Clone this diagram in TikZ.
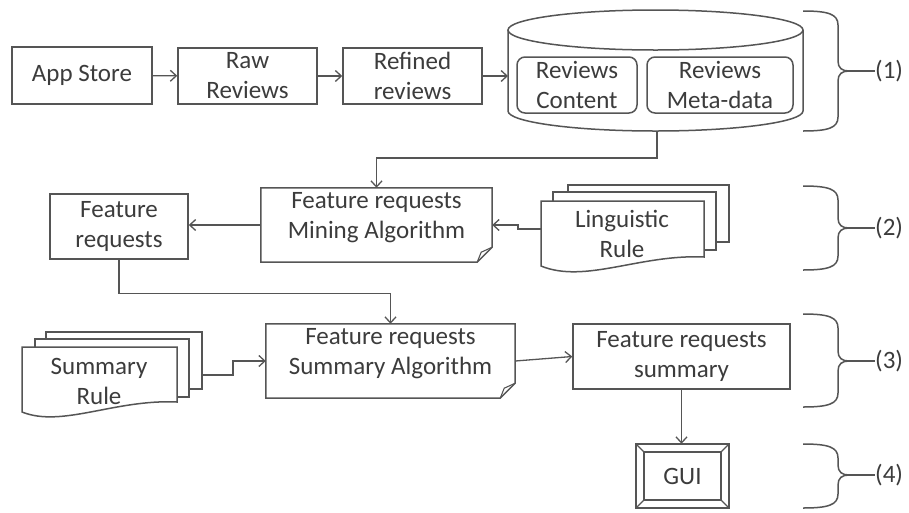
\documentclass[tikz,border=0pt]{standalone}
\usepackage{fontspec}
\setmainfont{Carlito}
\usetikzlibrary{arrows.meta,calc}
\definecolor{ln}{HTML}{555555}
\definecolor{tx}{HTML}{3C3C3C}
\tikzset{
  every node/.style={text=tx,font=\fontsize{25}{30}\selectfont,align=center,inner sep=0pt},
  line/.style={draw=ln,line width=1.5pt},
  box/.style={line,rectangle},
  ibox/.style={line,rectangle,rounded corners=8pt},
  arr/.style={draw=ln,line width=1.3pt,-{Straight Barb[length=6pt,width=11pt,line width=1.3pt]}},
  fold/.style={draw=ln,line width=1.1pt},
  lbl/.style={anchor=west},
}
\newcommand\grpbrace[3]{%
  \draw[line] (803,#1) .. controls (828,#1) and (838,#1+3) .. (838,#1+14)
    -- (838,#2-10) .. controls (838,#2-3) and (842,#2) .. (849,#2)
    .. controls (842,#2) and (838,#2+3) .. (838,#2+10)
    -- (838,#3-14) .. controls (838,#3-3) and (828,#3) .. (803,#3);}
\begin{document}
\begin{tikzpicture}[x=1pt,y=-1pt]
\useasboundingbox[fill=white] (0,0) rectangle (909,512);

% ---------- row 1 ----------
\node[box,minimum width=140pt,minimum height=57pt] (app) at (82,75.5) {App Store};
\node[box,minimum width=139pt,minimum height=56pt] (raw) at (247.5,76) {Raw\\Reviews};
\node[box,minimum width=139pt,minimum height=56pt] (ref) at (412.5,76) {Refined\\reviews};

% cylinder
\draw[line,fill=white] (508,30) -- (508,111)
  .. controls (508,122) and (574,131) .. (655.5,131)
  .. controls (737,131) and (803,122) .. (803,111) -- (803,30);
\draw[line] (655.5,30) ellipse [x radius=147.5pt, y radius=20pt];
\coordinate (dbw) at (508,76);
\coordinate (dbs) at (657,131);
\node[ibox,minimum width=120pt,minimum height=56pt] (rc) at (577,85) {Reviews\\Content};
\node[ibox,minimum width=146pt,minimum height=56pt] (rm) at (720,85) {Reviews\\Meta-data};

\draw[arr] (app) -- (raw);
\draw[arr] (raw) -- (ref);
\draw[arr] (ref.east) -- (ref.east -| dbw);

% ---------- row 2 ----------
\node[minimum width=231pt,minimum height=74pt] (mine) at (376.5,225) {};
\draw[line] (mine.north west) -- (mine.north east) -- ([yshift=15pt]mine.south east)
  -- ([xshift=-15pt]mine.south east) -- (mine.south west) -- cycle;
\draw[fold] ([xshift=-15pt]mine.south east) -- ([xshift=-11pt,yshift=10pt]mine.south east) -- ([yshift=15pt]mine.south east);
\node (minet) at (376.5,218) {Feature requests\\Mining Algorithm};

\node[box,minimum width=138pt,minimum height=65pt] (fr) at (119,226.5) {Feature\\requests};

% linguistic rule documents
\draw[line,fill=white] (568,185) rectangle (729,242);
\draw[line,fill=white] (553,192) rectangle (716,250);
\draw[line,fill=white] (541,201) -- (704,201) -- (704,257)
  .. controls (640,254) and (585,284) .. (541,266) -- cycle;
\node (ling) at (622,234) {Linguistic\\Rule};
\coordinate (lingout) at (541,229);

\draw[arr] (dbs) -- ++(0,27) -| (mine.north);
\draw[arr] (mine.west) -- (mine.west -| fr.east);
\draw[arr] (lingout) -- ++(-23,0) |- (mine.east);

% ---------- row 3 ----------
\node[minimum width=249pt,minimum height=74pt] (sumalg) at (390.5,361) {};
\draw[line] (sumalg.north west) -- (sumalg.north east) -- ([yshift=15pt]sumalg.south east)
  -- ([xshift=-15pt]sumalg.south east) -- (sumalg.south west) -- cycle;
\draw[fold] ([xshift=-15pt]sumalg.south east) -- ([xshift=-11pt,yshift=10pt]sumalg.south east) -- ([yshift=15pt]sumalg.south east);
\node (sumalgt) at (390.5,354) {Feature requests\\Summary Algorithm};

% summary rule documents
\draw[line,fill=white] (46,332) rectangle (202,389);
\draw[line,fill=white] (35,339) rectangle (189,397);
\draw[line,fill=white] (22,347) -- (177,347) -- (177,402)
  .. controls (115,399) and (62,428) .. (22,412) -- cycle;
\node (srule) at (99,381) {Summary\\Rule};
\coordinate (srout) at (202,375);

\node[box,minimum width=217pt,minimum height=65pt] (frs) at (681.5,356.5) {Feature requests\\summary};

\draw[arr] (fr.south) -- ++(0,34) -| (sumalg.north);
\draw[arr] (srout) -- ++(31,0) |- (sumalg.west);
\draw[arr] (sumalg.east) -- (frs.west);

% ---------- row 4 ----------
\node[minimum width=93pt,minimum height=64pt] (gui) at (682.5,476) {GUI};
\draw[line] (gui.north west) rectangle (gui.south east);
\draw[line] ([shift={(8pt,-8pt)}]gui.north west) rectangle ([shift={(-8pt,8pt)}]gui.south east);
\draw[fold] (gui.north west) -- ([shift={(8pt,-8pt)}]gui.north west);
\draw[fold] (gui.north east) -- ([shift={(-8pt,-8pt)}]gui.north east);
\draw[fold] (gui.south west) -- ([shift={(8pt,8pt)}]gui.south west);
\draw[fold] (gui.south east) -- ([shift={(-8pt,8pt)}]gui.south east);
\draw[arr] (frs.south) -- (frs.south |- gui.north);

% ---------- braces ----------
\grpbrace{11}{71}{131}
\coordinate (t1) at (849,71);
\node[lbl] (l1) at (875,71) {(1)};
\draw[line] (t1) -- (l1);

\grpbrace{186}{228}{270}
\coordinate (t2) at (849,228);
\node[lbl] (l2) at (875,228) {(2)};
\draw[line] (t2) -- (l2);

\grpbrace{314}{361}{407}
\coordinate (t3) at (849,361);
\node[lbl] (l3) at (875,361) {(3)};
\draw[line] (t3) -- (l3);

\grpbrace{444}{475}{508}
\coordinate (t4) at (849,475);
\node[lbl] (l4) at (875,475) {(4)};
\draw[line] (t4) -- (l4);
\end{tikzpicture}
\end{document}
